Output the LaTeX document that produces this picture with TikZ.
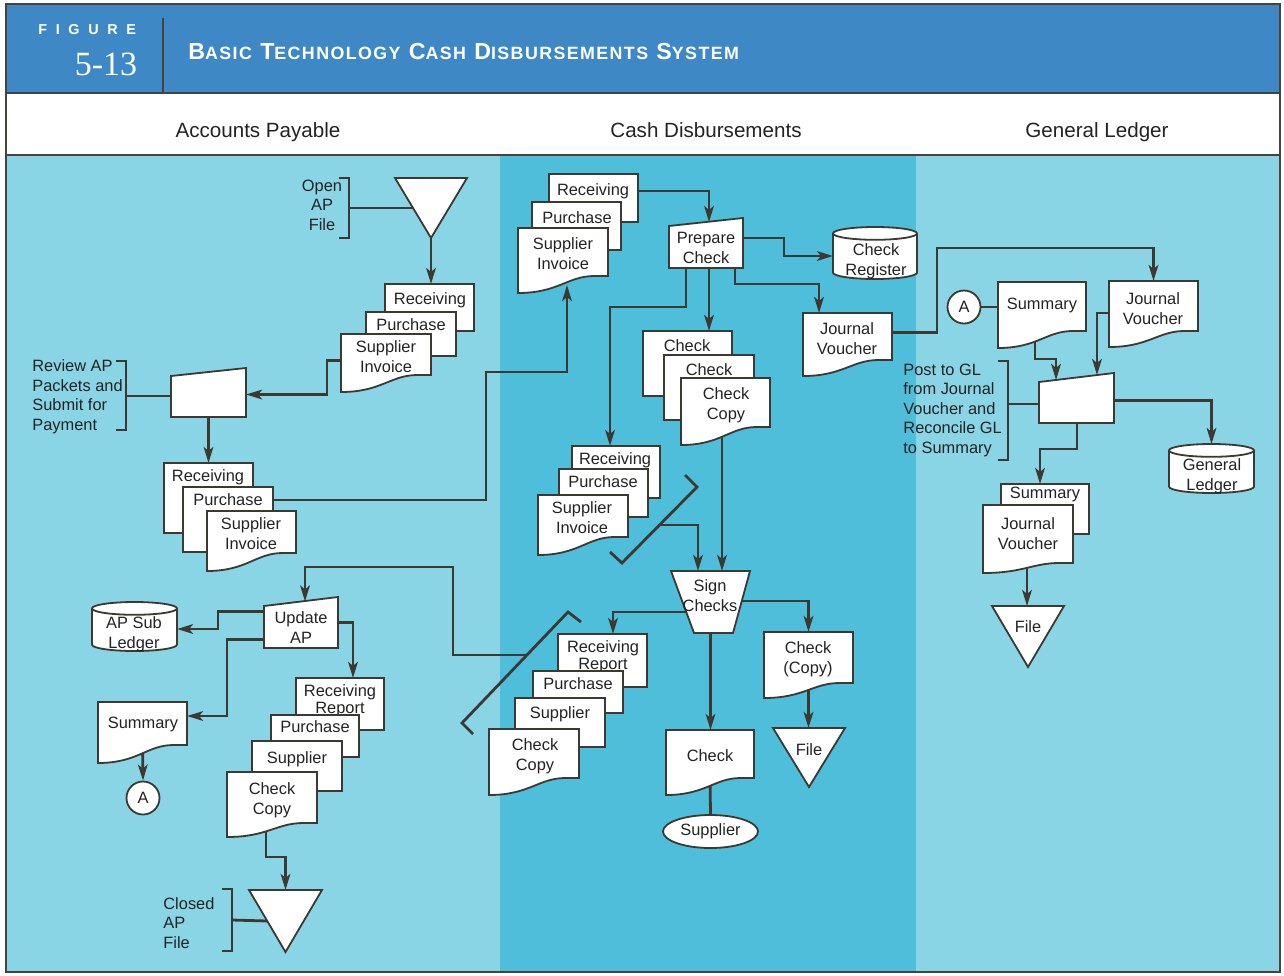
\documentclass[tikz,border=0pt]{standalone}
\usepackage{fontspec}
\setmainfont{Liberation Sans}
\newfontfamily\numfont{Liberation Serif}
\newfontfamily\figfont[LetterSpace=60]{Liberation Sans}
\newfontfamily\titlefont[LetterSpace=8]{Liberation Sans}
\usetikzlibrary{arrows.meta,calc,fit,shapes.geometric}
\pgfdeclarelayer{lanes}
\pgfdeclarelayer{wires}
\pgfsetlayers{lanes,wires,main}

\definecolor{hdr}{RGB}{62,136,198}
\definecolor{lanelight}{RGB}{138,213,229}
\definecolor{lanemid}{RGB}{78,190,218}
\definecolor{wirec}{RGB}{60,56,50}
\definecolor{ink}{RGB}{35,35,35}
\definecolor{rim}{RGB}{70,66,60}

\tikzset{
  shp/.style={draw=wirec, line width=0.9pt, fill=white},
  shpline/.style={draw=wirec, line width=0.9pt},
  shellbox/.style={inner sep=0pt, outer sep=0pt, draw=none, fill=none, rectangle},
  lbl/.style={font=\fontsize{8.2}{10}\selectfont, text=ink, align=center, inner sep=0pt, anchor=north},
  remark/.style={font=\fontsize{8.2}{9.75}\selectfont, text=ink, inner sep=0pt},
  lanetitle/.style={font=\fontsize{10.3}{12}\selectfont, text=ink, inner sep=0pt, anchor=base},
  lnk/.style={draw=wirec, line width=1.4pt},
  arr/.style={lnk, -{Stealth[length=8pt,width=4.8pt,inset=2pt]}},
}

% document symbol: name, x0, y0, x1, y1 (right bottom), wave depth, text x, first line y, text
\newcommand\DocShape[9]{%
  \filldraw[shp] (#2,#3) -- (#4,#3) -- (#4,#5) -- ({#2+0.85*(#4-#2)},#5)
    .. controls ({#2+0.55*(#4-#2)},#5) and ({#2+0.45*(#4-#2)},{#5+#6}) .. (#2,{#5+#6}) -- cycle;
  \node[shellbox, fit={(#2,#3) (#4,#5)}] (#1) {};
  \node[lbl] (#1t) at (#7,{#8-6}) {#9};}
% plain sheet behind a stack: name, x0, y0, x1, y1, text x, first line y, text
\newcommand\RectShape[8]{%
  \node[shellbox, shp, fit={(#2,#3) (#4,#5)}] (#1) {};
  \node[lbl] (#1t) at (#6,{#7-6}) {#8};}
% manual operation with sloped top: name, x0, y left, x1, y right, y bottom
\newcommand\ManIn[6]{%
  \filldraw[shp] (#2,#3) -- (#4,#5) -- (#4,#6) -- (#2,#6) -- cycle;
  \coordinate (#1-l) at (#2,#3);
  \coordinate (#1-r) at (#4,#5);
  \node[shellbox, fit={(#2,{(#3+#5)/2}) (#4,#6)}] (#1) {};}
% disk storage: name, x0, y0, x1, y1, x radius, text x, first line y, text
\newcommand\Cyl[9]{%
  \filldraw[shp] (#2,{#3+6.4}) -- (#2,{#5-6.4})
    arc[start angle=180,end angle=360,x radius=#6,y radius=3.2pt] -- (#4,{#3+6.4})
    arc[start angle=0,end angle=180,x radius=#6,y radius=3.2pt] -- cycle;
  \draw[shpline] (#2,{#3+6.4}) arc[start angle=180,end angle=360,x radius=#6,y radius=3.2pt];
  \node[shellbox, fit={(#2,#3) (#4,#5)}] (#1) {};
  \node[lbl] (#1t) at (#7,{#8-6}) {#9};}
% off-line file: name, x0, x1, y top, y apex
\newcommand\Tri[5]{%
  \filldraw[shp] (#2,#4) -- (#3,#4) -- ({(#2+#3)/2},#5) -- cycle;
  \node[shellbox, fit={(#2,#4) (#3,#5)}] (#1) {};}
% annotation bracket: name, x, y top, y bottom, y of stem
\newcommand\Brace[5]{%
  \draw[lnk] ({#2-10},#3) -- (#2,#3) -- (#2,#4) -- ({#2-10},#4);
  \coordinate (#1) at (#2,#5);}
\newcommand\smcp[1]{{\fontsize{8.9}{10}\selectfont #1}}

\begin{document}
\begin{tikzpicture}[x=0.5pt,y=-0.5pt]
\useasboundingbox (0,0) rectangle (1284,975);

% ---------- frame, header and swim lanes ----------
\begin{pgfonlayer}{lanes}
  \fill[white] (0,0) rectangle (1284,975);
  \fill[hdr] (6,4) rectangle (1280,93);
  \fill[white] (6,93) rectangle (1280,155);
  \fill[lanelight] (6,155) rectangle (500,972);
  \fill[lanemid] (500,155) rectangle (916,972);
  \fill[lanelight] (916,155) rectangle (1280,972);
  \draw[rim, line width=0.8pt] (6,4) rectangle (1280,972);
  \draw[rim, line width=0.8pt] (6,93) -- (1280,93);
  \draw[rim, line width=0.8pt] (6,155) -- (1280,155);
  \draw[rim, line width=0.7pt] (163,18) -- (163,93);
\end{pgfonlayer}

\node[anchor=west, text=white, inner sep=0pt] (figword) at (38,30)
  {\figfont\bfseries\fontsize{7.2}{8}\selectfont FIGURE};
\node[text=white, inner sep=0pt] (fignum) at (106,64)
  {\numfont\fontsize{17}{17}\selectfont 5-13};
\node[anchor=west, text=white, inner sep=0pt] (figtitle) at (188,52)
  {\titlefont\bfseries\fontsize{11.6}{12}\selectfont B\smcp{ASIC} T\smcp{ECHNOLOGY} C\smcp{ASH} D\smcp{ISBURSEMENTS} S\smcp{YSTEM}};

\node[lanetitle] (laneAP) at (258,137) {Accounts Payable};
\node[lanetitle] (laneCD) at (706,137) {Cash Disbursements};
\node[lanetitle] (laneGL) at (1097,137) {General Ledger};

% ---------- Accounts Payable ----------
\Tri{apOpen}{395}{467}{178}{238}
\Brace{brOpen}{349}{178}{238}{208}
\node[remark, align=center] (apOpenN) at (322,205) {Open\\AP\\File};

\RectShape{apRcv1}{385}{284}{474}{331}{430}{298}{Receiving}
\RectShape{apPur1}{366}{312}{456}{356}{411}{324}{Purchase}
\DocShape{apSup1}{341}{334}{431}{375}{17}{386}{346}{Supplier\\Invoice}

\ManIn{apRev}{171}{376}{246}{368}{417}
\Brace{brRev}{126}{361}{430}{396}
\node[remark, align=left, anchor=west] (apRevN) at (32,397) {Review AP\\Packets and\\Submit for\\Payment};

\RectShape{apRcv2}{164}{463}{253}{533}{208}{475}{Receiving}
\RectShape{apPur2}{183}{487}{273}{552}{228}{499}{Purchase}
\DocShape{apSup2}{207}{511}{296}{553}{18}{251}{523}{Supplier\\Invoice}

\ManIn{apUpd}{264}{606}{338}{597}{648}
\node[lbl] (apUpdt) at (301,611) {Update\\AP};
\Cyl{apSub}{92}{602}{177}{651}{21.25pt}{134}{622}{AP Sub\\Ledger}
\DocShape{apSum}{98}{702}{187}{745}{18}{143}{723}{Summary}
\node[shp, circle, minimum size=16.5pt, inner sep=0pt, text=ink, font=\fontsize{8.2}{10}\selectfont] (apA) at (143,798) {A};

\RectShape{apRcv3}{296}{678}{384}{730}{340}{690}{Receiving\\[-1.2pt]Report}
\RectShape{apPur3}{271}{715}{359}{757}{315}{726}{Purchase}
\RectShape{apSup3}{252}{741}{342}{791}{297}{757}{Supplier}
\DocShape{apChk}{227}{772}{317}{823}{14}{272}{788}{Check\\Copy}

\Tri{apClosed}{249}{322}{890}{952}
\Brace{brClosed}{232}{889}{951}{920}
\node[remark, align=left, anchor=west] (apClosedN) at (163,923) {Closed\\AP\\File};

% ---------- Cash Disbursements ----------
\RectShape{cdRcv1}{549}{174}{638}{222}{593}{189}{Receiving}
\RectShape{cdPur1}{532}{202}{621}{250}{577}{217}{Purchase}
\DocShape{cdSup1}{518}{228}{608}{276}{17}{563}{243}{Supplier\\Invoice}

\ManIn{cdPrep}{669}{226}{743}{218}{268}
\node[lbl] (cdPrept) at (706,232) {Prepare\\Check};
\Cyl{cdReg}{833}{227}{917}{279}{21pt}{876}{249}{Check\\Register}
\DocShape{cdJV}{803}{313}{892}{360}{16}{847}{328}{Journal\\Voucher}

\RectShape{cdChk1}{643}{331}{732}{396}{687}{345}{Check}
\RectShape{cdChk2}{664}{355}{754}{420}{709}{369}{Check}
\DocShape{cdChk3}{681}{378}{770}{427}{18}{726}{393}{Check\\Copy}

\RectShape{cdRcv2}{572}{446}{660}{498}{615}{458}{Receiving}
\RectShape{cdPur2}{559}{469}{648}{517}{603}{481}{Purchase}
\DocShape{cdSup2}{538}{495}{628}{537}{18}{582}{507}{Supplier\\Invoice}
\draw[lnk] (610,552) -- (622,563) -- (697,487) -- (685,475);
\coordinate (brA) at (659.5,525);

\filldraw[shp] (671,571) -- (750,571) -- (733,633) -- (694,633) -- cycle;
\node[shellbox, fit={(671,571) (750,633)}] (cdSign) {};
\node[lbl] (cdSignt) at (710,579) {Sign\\Checks};

\RectShape{cdRcv3}{558}{634}{647}{687}{603}{646}{Receiving\\[-1.2pt]Report}
\RectShape{cdPur3}{533}{671}{623}{713}{578}{683}{Purchase}
\RectShape{cdSup3}{515}{698}{605}{747}{560}{712}{Supplier}
\DocShape{cdChk4}{489}{729}{579}{778}{17}{535}{744}{Check\\Copy}
\draw[lnk] (473,734) -- (462,723) -- (568,612) -- (581,622);
\coordinate (brB) at (527,655);

\DocShape{cdChkO}{666}{730}{754}{778}{17}{710}{755}{Check}
\node[shp, ellipse, minimum width=47.5pt, minimum height=16.5pt, inner sep=0pt, text=ink, font=\fontsize{8.2}{10}\selectfont] (cdSupp) at (710.5,831.5) {Supplier};
\DocShape{cdCopy}{764}{632}{853}{683}{15}{808}{647}{Check\\(Copy)}
\Tri{cdFile}{773}{845}{728}{787}
\node[lbl] (cdFilet) at (809,743) {File};

% ---------- General Ledger ----------
\node[shp, circle, minimum size=16.5pt, inner sep=0pt, text=ink, font=\fontsize{8.2}{10}\selectfont] (glA) at (964,307) {A};
\DocShape{glSum}{998}{282}{1086}{331}{17}{1042}{304}{Summary}
\DocShape{glJV}{1109}{281}{1198}{331}{16}{1153}{298}{Journal\\Voucher}
\ManIn{glPost}{1039}{382}{1114}{373}{423}
\Brace{brPost}{1008}{361}{460}{404}
\node[remark, align=left, anchor=west] (glPostN) at (903,410) {Post to GL\\from Journal\\Voucher and\\Reconcile GL\\to Summary};
\Cyl{glGL}{1169}{444}{1254}{493}{21.25pt}{1212}{464}{General\\Ledger}
\RectShape{glSum2}{1001}{484}{1089}{534}{1045}{493}{Summary}
\DocShape{glJV2}{983}{505}{1073}{563}{10}{1028}{523}{Journal\\Voucher}
\Tri{glFile}{992}{1064}{606}{667}
\node[lbl] (glFilet) at (1028,620) {File};

% ---------- flow lines ----------
\begin{pgfonlayer}{wires}
  % accounts payable
  \draw[arr] (apOpen.south) -- (apOpen.south |- apRcv1.north);
  \draw[lnk] (brOpen) -- ($(apOpen.north west)!0.5!(apOpen.south)$);
  \draw[arr] ($(apSup1.west)+(0,6)$) -- ++(-14,0) |- (apRev.east);
  \draw[lnk] (brRev) -- (brRev -| apRev.west);
  \draw[arr] (apRev.south) -- (apRcv2.north);
  \draw[arr] ($(apPur2.north east)+(0,13)$) -- ++(213,0) -- ++(0,-128) -| ($(cdSup1.south west)+(49,9)$);
  \draw[arr] (brB) -- ++(-74,0) -- ++(0,-88) -| ($(apUpd.north)+(4,0)$);
  \draw[arr] ($(apUpd.east)+(0,-2)$) -| ($(apRcv3.north west)+(57,0)$);
  \draw[arr] ($(apUpd.west)+(0,-13)$) -- ++(-46,0) |- ($(apSub.east)+(0,2.5)$);
  \draw[arr] ($(apUpd.west)+(0,15)$) -- ++(-37,0) |- ($(apSum.north east)+(0,14)$);
  \draw[arr] (apSum.south) -- (apA.north);
  \draw[arr] ($(apChk.south west)+(39,0)$) -- ++(0,34) -| (apClosed.north);
  \draw[lnk] (brClosed) -- ($(apClosed.north west)!0.5!(apClosed.south)$);
  % cash disbursements
  \draw[arr] ($(cdRcv1.north east)+(0,17)$) -| ($(cdPrep.north)+(3,0)$);
  \draw[arr] ($(cdPrep.east)+(0,-7)$) -- ++(41,0) |- ($(cdReg.west)+(0,3)$);
  \draw[arr] ($(cdPrep.south east)+(-8,0)$) -- ++(0,16) -| ($(cdJV.north west)+(16,0)$);
  \coordinate (pc) at ($(cdPrep.south)+(3,0)$);
  \draw[arr] (pc) -- (pc |- cdChk1.north);
  \draw[arr] ($(cdPrep.south west)+(17,0)$) -- ++(0,39) -| ($(cdRcv2.north west)+(38,0)$);
  \draw[arr] ($(cdJV.east)+(0,-4)$) -- ++(45,0) |- ($(glJV.north)+(0,-33)$) -- (glJV.north);
  \draw[arr] (brA) -| ($(cdSign.north west)+(27,0)$);
  \coordinate (cc) at ($(cdChk3.south west)+(41,0)$);
  \draw[arr] (cc) -- (cc |- cdSign.north);
  \draw[arr] ($(cdSign.west)+(20,10)$) -| ($(cdRcv3.north west)+(55,0)$);
  \draw[arr] ($(cdSign.east)+(-10,-1)$) -| (cdCopy.north);
  \draw[arr] (cdSign.south) -- (cdSign.south |- cdChkO.north);
  \draw[lnk] (cdChkO.south) -- (cdSupp.north);
  \coordinate (cf) at (cdCopy.south);
  \draw[arr] (cf) -- (cf |- cdFile.north);
  % general ledger
  \draw[lnk] (glA.east) -- (glA.east -| glSum.west);
  \draw[arr] ($(glSum.south west)+(37,0)$) -- ++(0,28) -| ($(glPost-l)!0.227!(glPost-r)$);
  \draw[arr] ($(glJV.west)+(0,7)$) -| ($(glPost-l)!0.773!(glPost-r)$);
  \draw[lnk] (brPost) -- (brPost -| glPost.west);
  \draw[arr] (glPost.east) -| (glGL.north);
  \draw[arr] ($(glPost.south west)+(38,0)$) -- ++(0,26) -| ($(glSum2.north west)+(39,0)$);
  \coordinate (gj) at ($(glJV2.south west)+(44,0)$);
  \draw[arr] (gj) -- (gj |- glFile.north);
\end{pgfonlayer}
\end{tikzpicture}
\end{document}
